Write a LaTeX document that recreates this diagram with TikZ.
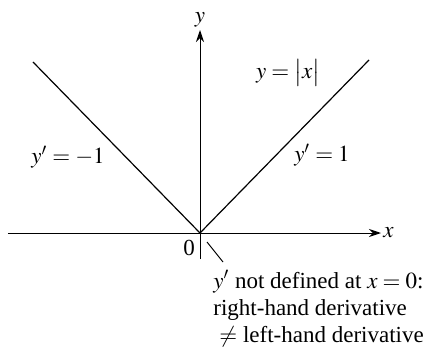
\documentclass[tikz,border=0pt]{standalone}
\usepackage{mathptmx}
\usepackage{fontspec}
\setmainfont{Liberation Serif}
\usetikzlibrary{arrows.meta}
\begin{document}
\begin{tikzpicture}[x=0.5pt,y=0.5pt,font=\fontsize{11.5}{13.6}\selectfont,
    axis/.style={line width=0.5pt,-{Stealth[length=6pt,width=4pt]}},
    graph/.style={line width=0.6pt}]
    % frame of the reference picture
    \useasboundingbox (-200,-115) rectangle (243,233);
    \coordinate (O) at (0,0);
    \coordinate (xmin) at (-192,0);
    \coordinate (ymin) at (0,-26);
    \coordinate (lend) at (-167,171);
    \coordinate (rend) at (169,173);
    \node[anchor=west,inner sep=1pt] (xlab) at (181,0) {$x$};
    \node[anchor=south,inner sep=1pt] (ylab) at (0,203) {$y$};
    \draw[axis] (xmin) -- (xlab.west);
    \draw[axis] (ymin) -- (ylab.south);
    \draw[graph] (lend) -- (O) -- (rend);
    \node (fx) at (88,160) {$y = \bigl|x\bigr|$};
    \node (dl) at (-132,76) {$y' = -1$};
    \node (dr) at (122,78) {$y' = 1$};
    \node (zero) at (-11,-15) {0};
    % note under the corner
    \node[anchor=north west,align=left,inner sep=0pt] (note) at (13,-37)
      {$y'$ not defined at $x = 0$:\\right-hand derivative\\\hspace{3pt}$\neq$ left-hand derivative};
    \coordinate (from) at (7,-9);
    \coordinate (tip) at (23,-29);
    \draw[line width=0.5pt] (from) -- (tip);
  \end{tikzpicture}
\end{document}
